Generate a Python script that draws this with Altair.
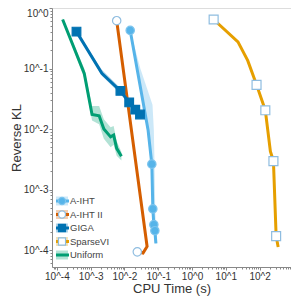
import altair as alt
import pandas as pd

names = ["A-IHT", "A-IHT II", "GIGA", "SparseVI", "Uniform"]
colors = ["#56B4E9", "#D55E00", "#0072B2", "#E69F00", "#009E73"]

# log10 values
aiht_x = [-1.83, -1.30, -1.19, -1.16, -1.13, -1.10, -1.07]
aiht_y = [-0.37, -2.02, -2.58, -3.32, -3.58, -3.68, -3.89]
aiht_mk = [0, 2, 3, 4, 5]
aiht_band_y = [-0.37, -1.0, -1.6, -2.02, -2.58, -3.32, -3.58, -3.68, -3.89]
aiht_band_lo = [-1.83, -1.65, -1.45, -1.33, -1.22, -1.18, -1.15, -1.12, -1.09]
aiht_band_hi = [-1.83, -1.53, -1.17, -1.13, -1.11, -1.09, -1.07, -1.04, -1.03]

aiht2_x = [-2.23, -1.33, -1.45, -1.62]
aiht2_y = [-0.21, -3.94, -4.05, -4.03]
aiht2_mk = [0, 3]

giga_x = [-3.42, -2.67, -2.12, -1.86, -1.68, -1.54]
giga_y = [-0.39, -1.08, -1.37, -1.56, -1.68, -1.76]
giga_lo = [-0.40, -1.12, -1.42, -1.60, -1.71, -1.78]
giga_hi = [-0.38, -1.02, -1.32, -1.52, -1.65, -1.74]
giga_mk = [0, 2, 3, 4, 5]

svi_x = [0.64, 1.36, 1.65, 1.91, 2.17, 2.32, 2.41, 2.49, 2.55]
svi_y = [-0.19, -0.56, -0.87, -1.27, -1.69, -2.37, -2.53, -3.77, -3.95]
svi_lo = [-0.20, -0.58, -0.90, -1.30, -1.73, -2.41, -2.57, -3.81, -3.99]
svi_hi = [-0.18, -0.54, -0.84, -1.24, -1.65, -2.33, -2.49, -3.73, -3.91]
svi_mk = [0, 3, 4, 6, 7]

uni_x = [-3.83, -3.19, -2.96, -2.75, -2.61, -2.41, -2.32, -2.23, -2.09]
uni_y = [-0.19, -1.08, -1.76, -1.78, -2.00, -2.13, -2.10, -2.32, -2.45]
uni_lo = [-0.21, -1.16, -1.86, -1.92, -2.16, -2.30, -2.26, -2.44, -2.52]
uni_hi = [-0.17, -1.00, -1.62, -1.62, -1.84, -1.97, -1.95, -2.20, -2.38]

marker_shape = {"A-IHT": "circle", "A-IHT II": "circle", "GIGA": "square", "SparseVI": "square"}
marker_fill = {"A-IHT": "#56B4E9", "A-IHT II": "white", "GIGA": "#0072B2", "SparseVI": "white"}
marker_stroke = {"A-IHT": "#7cc4ee", "A-IHT II": "#8fbde0", "GIGA": "#0072B2", "SparseVI": "#8fbde0"}
marker_size = {"A-IHT": 70, "A-IHT II": 70, "GIGA": 75, "SparseVI": 80}

series = {
    "A-IHT": (aiht_x, aiht_y, aiht_mk),
    "A-IHT II": (aiht2_x, aiht2_y, aiht2_mk),
    "GIGA": (giga_x, giga_y, giga_mk),
    "SparseVI": (svi_x, svi_y, svi_mk),
    "Uniform": (uni_x, uni_y, []),
}

line_rows, mk_rows = [], []
for name, (xs, ys, mk) in series.items():
    for i, (a, b) in enumerate(zip(xs, ys)):
        line_rows.append({"series": name, "x": 10 ** a, "y": 10 ** b, "i": i})
        if i in mk:
            mk_rows.append({"series": name, "x": 10 ** a, "y": 10 ** b,
                            "shape": marker_shape[name], "fill": marker_fill[name],
                            "stroke": marker_stroke[name], "size": marker_size[name]})
lines_df = pd.DataFrame(line_rows)
mk_df = pd.DataFrame(mk_rows)

bandy_rows = []
for name, xs, lo, hi in [("GIGA", giga_x, giga_lo, giga_hi), ("SparseVI", svi_x, svi_lo, svi_hi),
                         ("Uniform", uni_x, uni_lo, uni_hi)]:
    for a, l, h in zip(xs, lo, hi):
        bandy_rows.append({"series": name, "x": 10 ** a, "lo": 10 ** l, "hi": 10 ** h})
bandy_df = pd.DataFrame(bandy_rows)
bandx_df = pd.DataFrame({"series": "A-IHT", "y": [10 ** v for v in aiht_band_y],
                         "lo": [10 ** v for v in aiht_band_lo], "hi": [10 ** v for v in aiht_band_hi]})

FONT = "Liberation Sans"
major = "abs(log(datum.value)/LN10 - round(log(datum.value)/LN10)) < 0.001"
lab = major + " ? '10^' + round(log(datum.value)/LN10) : ''"

xticks = [m * 10 ** k for k in range(-5, 4) for m in range(1, 10) if 10 ** -4.145 <= m * 10 ** k <= 10 ** 2.93]
yticks = [m * 10 ** k for k in range(-5, 1) for m in range(1, 10) if 10 ** -4.28 <= m * 10 ** k <= 1.0001]

def mk_axis(title, values, tpad, flush=False):
    return alt.Axis(title=title, values=values, labelExpr=lab, labelOverlap=False, grid=False,
                    tickSize={"condition": {"test": major, "value": 3}, "value": 2},
                    domainColor="#888", tickColor="#888", labelColor="#333", labelFontSize=10,
                    labelFont=FONT, titleFont=FONT, titleFontSize=13, titleFontWeight="normal",
                    titleColor="#333", labelPadding=1, titlePadding=tpad, labelFlush=flush)

xscale = alt.Scale(type="log", domain=[10 ** -4.145, 10 ** 2.93], nice=False)
yscale = alt.Scale(type="log", domain=[10 ** -4.28, 1], nice=False)
X = lambda f: alt.X(f, type="quantitative", scale=xscale, axis=mk_axis("CPU Time (s)", xticks, 1))
Y = lambda f: alt.Y(f, type="quantitative", scale=yscale, axis=mk_axis("Reverse KL", yticks, 0, True))
color = alt.Color("series:N", scale=alt.Scale(domain=names, range=colors), legend=None)

band_y = alt.Chart(bandy_df).mark_area(opacity=0.3, orient="vertical").encode(
    x=X("x"), y=Y("lo"), y2="hi", color=color)
band_x = alt.Chart(bandx_df).mark_area(opacity=0.3, orient="horizontal").encode(
    y=Y("y"), x=X("lo"), x2="hi", color=color)
lines = alt.Chart(lines_df).mark_line(strokeWidth=3).encode(
    x=X("x"), y=Y("y"), color=color, order="i:Q")
markers = alt.Chart(mk_df).mark_point(filled=True, strokeWidth=1.2, opacity=1).encode(
    x=X("x"), y=Y("y"),
    shape=alt.Shape("shape:N", scale=None),
    fill=alt.Fill("fill:N", scale=None),
    stroke=alt.Stroke("stroke:N", scale=None),
    size=alt.Size("size:Q", scale=None))
main = alt.layer(band_y, band_x, lines, markers)

leg_df = pd.DataFrame({"name": names, "col": colors,
                       "shape": [marker_shape.get(n, "circle") for n in names],
                       "fill": [marker_fill.get(n, "white") for n in names],
                       "stroke": [marker_stroke.get(n, "white") for n in names]})
LY = alt.Y("name:N", scale=alt.Scale(type="point", domain=names, range=[193, 247], padding=0), axis=None)
leg_band = alt.Chart(leg_df).mark_point(
    shape="M-1,-0.75L1,-0.75L1,0.75L-1,0.75Z", filled=True, size=144, opacity=0.3, strokeWidth=0).encode(
    x=alt.value(10), y=LY, fill=alt.Fill("col:N", scale=None))
leg_line = alt.Chart(leg_df).mark_rule(strokeWidth=3).encode(
    x=alt.value(4), x2=alt.value(17), y=LY, stroke=alt.Stroke("col:N", scale=None))
leg_mark = alt.Chart(leg_df[leg_df["name"] != "Uniform"]).mark_point(
    filled=True, strokeWidth=1.2, size=50, opacity=1).encode(
    x=alt.value(10), y=LY,
    shape=alt.Shape("shape:N", scale=None),
    fill=alt.Fill("fill:N", scale=None),
    stroke=alt.Stroke("stroke:N", scale=None))
leg_text = alt.Chart(leg_df).mark_text(align="left", baseline="middle", fontSize=9.5,
                                       font=FONT, color="#444").encode(
    x=alt.value(18), y=LY, text="name:N")
legend = alt.layer(leg_band, leg_line, leg_mark, leg_text)

chart = alt.layer(main, legend).resolve_scale(
    x="independent", y="independent", color="independent", fill="independent",
    stroke="independent", shape="independent", size="independent"
).properties(
    width=239, height=259,
    autosize=alt.AutoSizeParams(type="none"),
    padding={"left": 44, "top": 0, "right": 0, "bottom": 30},
).configure_view(stroke="#ececec", strokeWidth=1).configure(background="white")

chart.save("out.html", embed_options={"renderer": "svg", "actions": False})
